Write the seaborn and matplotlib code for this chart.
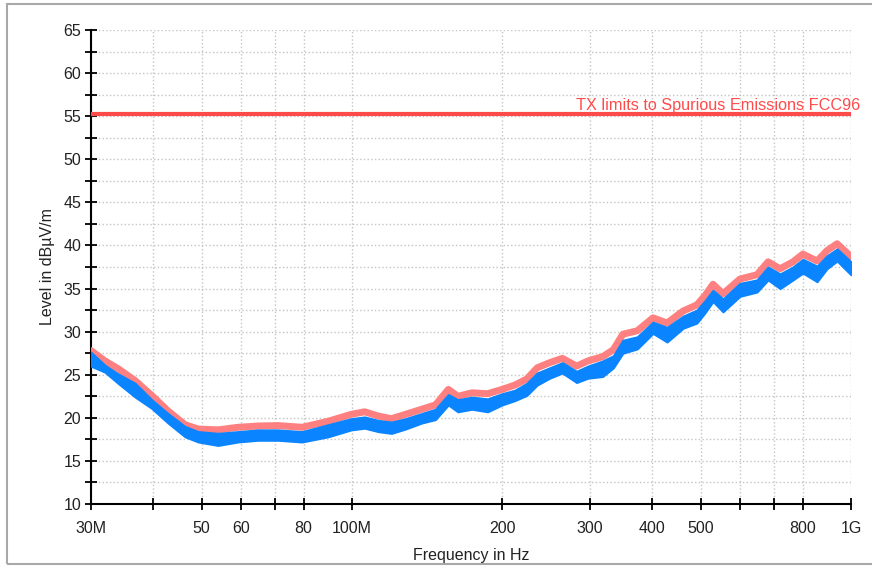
import numpy as np
import pandas as pd
import seaborn as sns
import matplotlib
matplotlib.use("Agg")
import matplotlib.pyplot as plt
from matplotlib.patches import Rectangle

# Measured emission levels (frequency in MHz, level in dBµV/m)
freq_mhz = [30, 32, 34, 36.8, 39.7, 42.8, 46.3, 49.2, 53.9, 59.1, 64.8, 71.1,
            79.4, 89.6, 99.6, 106, 113, 120, 128, 138, 147, 156, 163, 174,
            187, 200, 212, 224, 235, 249, 264, 282, 297, 318, 334, 349, 373,
            401, 428, 461, 491, 510, 529, 554, 599, 648, 682, 721, 765, 801,
            855, 895, 938, 1000]
peak_level = [27.8, 26.6, 25.7, 24.3, 22.6, 20.8, 19.2, 18.7, 18.6, 18.9, 19.05, 19.1,
              18.9, 19.6, 20.4, 20.7, 20.2, 19.9, 20.4, 21.0, 21.5, 23.3, 22.5, 22.9,
              22.8, 23.3, 23.8, 24.5, 25.8, 26.4, 26.9, 26.0, 26.6, 27.1, 27.9, 29.7, 30.1,
              31.6, 31.0, 32.4, 33.1, 34.2, 35.5, 34.4, 36.1, 36.6, 38.1, 37.3, 38.1, 39.0,
              38.2, 39.4, 40.2, 38.7]
avg_high = [27.6, 26.1, 25.1, 24.0, 22.1, 20.5, 19.0, 18.4, 18.2, 18.4, 18.6, 18.6,
            18.4, 19.2, 19.9, 20.1, 19.7, 19.5, 19.9, 20.5, 21.0, 22.7, 22.1, 22.4,
            22.2, 22.8, 23.2, 24.0, 25.2, 25.8, 26.4, 25.4, 26.0, 26.6, 27.2, 29.0, 29.4,
            31.1, 30.5, 31.8, 32.5, 33.6, 34.8, 33.8, 35.6, 36.0, 37.5, 36.7, 37.5, 38.4,
            37.6, 38.8, 39.6, 38.1]
avg_low = [26.0, 25.3, 24.0, 22.4, 21.1, 19.4, 17.8, 17.2, 16.8, 17.2, 17.4, 17.4,
           17.2, 17.8, 18.6, 18.8, 18.4, 18.2, 18.7, 19.4, 19.8, 21.5, 20.7, 21.0,
           20.7, 21.5, 22.0, 22.6, 23.8, 24.6, 25.2, 24.1, 24.6, 24.8, 25.8, 27.5, 28.0,
           29.8, 28.8, 30.4, 31.0, 32.2, 33.5, 32.3, 34.1, 34.6, 36.0, 35.0, 36.0, 36.8,
           35.8, 37.3, 38.2, 36.6]

limit_level = 55.2
limit_label = "TX limits to Spurious Emissions FCC96"

x_ticks = [30, 40, 50, 60, 70, 80, 100, 200, 300, 400, 500, 600, 700, 800, 1000]
x_tick_labels = ["30M", "", "50", "60", "", "80", "100M", "200", "300", "400",
                 "500", "", "", "800", "1G"]
y_major = list(range(10, 66, 5))
y_minor = [12.5 + 5 * i for i in range(11)]

sns.set_style("white")
plt.rcParams["font.family"] = ["Liberation Sans", "DejaVu Sans"]

fig = plt.figure(figsize=(8.72, 5.67), dpi=100)
ax = fig.add_axes([91 / 872, 63 / 567, 760 / 872, 474 / 567])

df = pd.DataFrame({"freq": freq_mhz, "peak": peak_level,
                   "hi": avg_high, "lo": avg_low})

red_trace = "#FF8080"
blue_trace = "#0A84FF"
limit_col = "#FF4A4A"

sns.lineplot(data=df, x="freq", y="peak", ax=ax, color=red_trace,
             linewidth=5.0, zorder=3, estimator=None)
ax.fill_between(df["freq"], df["lo"], df["hi"], color=blue_trace,
                edgecolor=blue_trace, linewidth=1.5, zorder=4)

lim_df = pd.DataFrame({"freq": [30, 1000], "lvl": [limit_level, limit_level]})
sns.lineplot(data=lim_df, x="freq", y="lvl", ax=ax, color=limit_col,
             linewidth=3.0, zorder=5, estimator=None)
ax.text(1.0118, 55.7, limit_label, transform=ax.get_yaxis_transform(),
        ha="right", va="baseline", color=limit_col, fontsize=11.7, clip_on=False)

ax.set_xscale("log")
ax.set_xlim(30, 1000)
ax.set_ylim(10, 65)
ax.set_xticks(x_ticks)
ax.set_xticklabels(x_tick_labels)
ax.xaxis.set_minor_locator(matplotlib.ticker.NullLocator())
ax.set_yticks(y_major)
ax.set_yticks(y_minor, minor=True)

for s in ["top", "right"]:
    ax.spines[s].set_visible(False)
for s in ["left", "bottom"]:
    ax.spines[s].set_color("black")
    ax.spines[s].set_linewidth(1.5)

ax.tick_params(axis="both", which="both", direction="inout", length=8,
               width=1.3, color="black", labelsize=11.5, labelcolor="#222222",
               left=True, bottom=True)
ax.tick_params(axis="x", pad=8)
ax.tick_params(axis="y", pad=3)

ax.grid(True, which="both", color="#c4c4c4", linestyle=":", linewidth=1.0)
ax.set_axisbelow(True)

ax.set_xlabel("Frequency in Hz", fontsize=11.5, color="#222222")
ax.set_ylabel("Level in dBµV/m", fontsize=11.5, color="#222222")
ax.xaxis.set_label_coords(0.5, -0.093)
ax.yaxis.set_label_coords(-0.048, 0.5)

# outer frame of the plot window, with the strip below it left blank
fig.patches.append(Rectangle((0, 0), 1, 3 / 567, transform=fig.transFigure,
                             facecolor="white", edgecolor="none", zorder=10))
fig.patches.append(Rectangle((6.5 / 872, 3.5 / 567), 880 / 872, 560 / 567,
                             transform=fig.transFigure, fill=False,
                             edgecolor="#a8a8a8", linewidth=1.5, zorder=11))

fig.savefig("out.png", dpi=100)
